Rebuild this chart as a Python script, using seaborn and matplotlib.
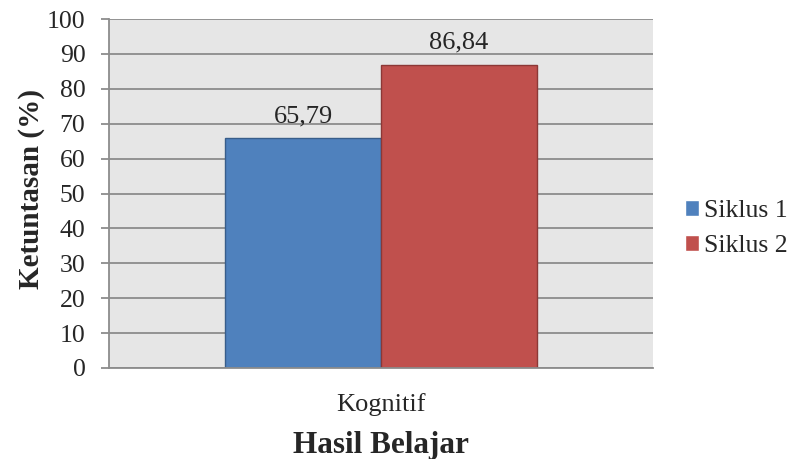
import matplotlib
matplotlib.use("Agg")
import matplotlib.pyplot as plt
import seaborn as sns
import pandas as pd

categories = ["Kognitif"]
series = ["Siklus 1", "Siklus 2"]
values = [65.79, 86.84]
labels = ["65,79", "86,84"]
colors = ["#4F81BD", "#C0504D"]
edges = ["#385D8A", "#8C3836"]

df = pd.DataFrame({"Kategori": categories * len(series), "Siklus": series, "Nilai": values})

sns.set_theme(style="white")
plt.rcParams["font.family"] = ["Liberation Serif", "DejaVu Serif"]

W, H = 792, 459
fig = plt.figure(figsize=(W / 100, H / 100), dpi=100)
ax = fig.add_axes([109 / W, 1 - 368 / H, (653 - 109) / W, (368 - 19) / H])
ax.set_facecolor("#E6E6E6")

sns.barplot(data=df, x="Kategori", y="Nilai", hue="Siklus", palette=colors,
            width=0.572, ax=ax, saturation=1, legend=True)

for patch, ec in zip(ax.patches, edges):
    patch.set_edgecolor(ec)
    patch.set_linewidth(1.0)

for cont, lab in zip(ax.containers, labels):
    ax.bar_label(cont, labels=[lab], padding=8, fontsize=19)

ax.set_xlim(-0.5, 0.5)
ax.set_ylim(0, 100)
ax.set_yticks(range(0, 101, 10))
ax.yaxis.grid(True, color="#8C8C8C", linewidth=1.3)
ax.set_axisbelow(True)
for s in ["top", "right"]:
    ax.spines[s].set_visible(False)
for s in ["left", "bottom"]:
    ax.spines[s].set_color("#8C8C8C")
    ax.spines[s].set_linewidth(1.3)
ax.tick_params(axis="y", which="both", left=True, length=6, width=1.3, color="#8C8C8C",
               labelsize=18.5, pad=11, direction="out")
ax.tick_params(axis="x", bottom=False, length=0, labelsize=19, pad=18)

ax.set_xlabel("Hasil Belajar", fontsize=22.5, fontweight="bold", labelpad=11)
ax.set_ylabel("Ketuntasan (%)", fontsize=21, fontweight="bold")
ax.yaxis.set_label_coords(-0.118, 0.513)

leg = ax.legend(loc="center left", bbox_to_anchor=(685 / W, 1 - 228.5 / H),
                bbox_transform=fig.transFigure, frameon=False, borderaxespad=0,
                borderpad=0, fontsize=18.5, handlelength=0.545, handleheight=0.545,
                handletextpad=0.2, labelspacing=0.5)

fig.savefig("out.png", dpi=100)
